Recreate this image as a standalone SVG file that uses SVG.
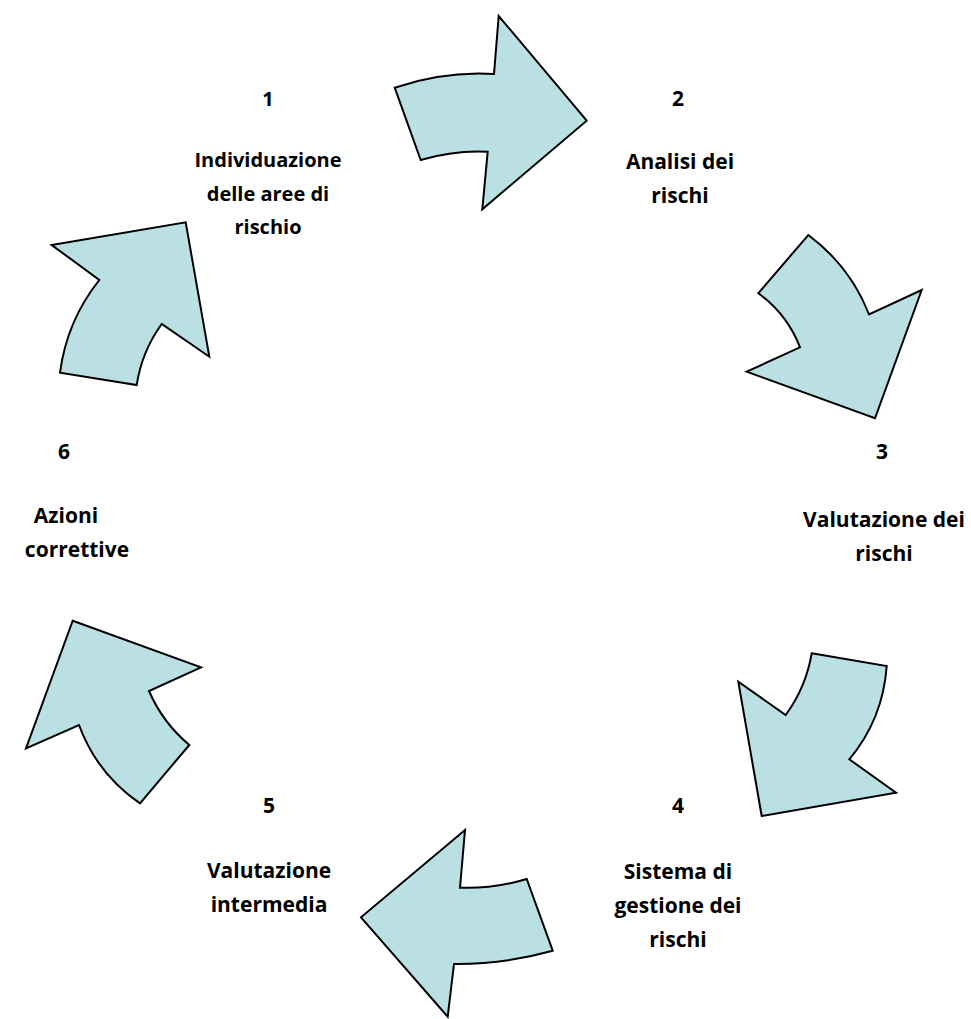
<svg xmlns="http://www.w3.org/2000/svg" width="971" height="1019" viewBox="0 0 971 1019">
<style>
.arrow{fill:#BAE0E3;stroke:#000;stroke-width:2;stroke-linejoin:miter}
.t{font-family:"Open Sans","Liberation Sans",sans-serif;font-weight:bold;font-size:21px;fill:#000;text-anchor:middle}
.s{font-size:20px}
</style>
<rect width="971" height="1019" fill="#fff"/>
<g id="connectors">
<path id="arrow1" class="arrow" d="M394.7,87.7 Q444,71 494,74 L498.7,16 L586.7,120.7 L482.3,209.3 L487.7,151.7 Q454,150 420.7,160 Z"/>
<path id="arrow2" class="arrow" d="M808.3,235 Q850,266 869,314.3 L921.7,290 L875,418.3 L746.7,371.7 L800,347.3 Q787,314 758.3,293.3 Z"/>
<path id="arrow3" class="arrow" d="M811.7,653.3 L886.7,666 Q883,719 849.3,759.3 L896,792.7 L761.7,816 L738.3,681.7 L785.7,715 Q806,687 811.7,653.3 Z"/>
<path id="arrow4" class="arrow" d="M465,830 L460,887.7 Q493,889 526.7,879 L552.7,950.7 Q503,964.5 454,964 L447.7,1016.7 L361,917.3 Z"/>
<path id="arrow5" class="arrow" d="M72.7,620.7 L201,667.3 L149,691 Q162.8,722.8 189.3,745 L140,803.3 Q97,774 79,725 L26,748.3 Z"/>
<path id="arrow6" class="arrow" d="M51.7,245 L185.7,222.3 L209.3,356.7 L161.7,324 Q141.8,351.5 136.7,385 L60,372.7 Q66.8,320.8 99.3,280 Z"/>
</g>
<g id="node1">
<text class="t s" x="268" y="106">1</text>
<text class="t s" x="268" y="167">Individuazione</text>
<text class="t s" x="268" y="201">delle aree di</text>
<text class="t s" x="268" y="234">rischio</text>
</g>
<g id="node2">
<text class="t" x="678" y="106">2</text>
<text class="t" x="680" y="169">Analisi dei</text>
<text class="t" x="680" y="203">rischi</text>
</g>
<g id="node3">
<text class="t" x="882" y="459">3</text>
<text class="t" x="884" y="527">Valutazione dei</text>
<text class="t" x="884" y="561">rischi</text>
</g>
<g id="node4">
<text class="t" x="678" y="813">4</text>
<text class="t" x="678" y="879">Sistema di</text>
<text class="t" x="678" y="913">gestione dei</text>
<text class="t" x="678" y="947">rischi</text>
</g>
<g id="node5">
<text class="t" x="269" y="813">5</text>
<text class="t" x="269" y="878">Valutazione</text>
<text class="t" x="269" y="912">intermedia</text>
</g>
<g id="node6">
<text class="t" x="64" y="459">6</text>
<text class="t" x="66" y="523">Azioni</text>
<text class="t" x="77" y="557">correttive</text>
</g>
</svg>
